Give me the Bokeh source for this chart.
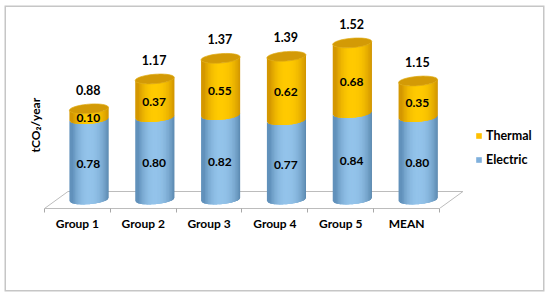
import math
from bokeh.embed import file_html
from bokeh.resources import INLINE
from bokeh.plotting import figure
from bokeh.models import (ColumnDataSource, FixedTicker, Legend, LegendItem, Range1d, Title)
from bokeh.core.properties import value

groups = ["Group 1", "Group 2", "Group 3", "Group 4", "Group 5", "MEAN"]
electric = [0.78, 0.80, 0.82, 0.77, 0.84, 0.80]
thermal = [0.10, 0.37, 0.55, 0.62, 0.68, 0.35]
totals = [0.88, 1.17, 1.37, 1.39, 1.52, 1.15]
series_names = ["Thermal", "Electric"]

FONT = "Lato"
CELL = 65.83
UNIT = 103.0
W, H = 537, 283
LEFT, BOTTOM = 38, 82
fw = W - LEFT
fh = H - BOTTOM
ymin = -9.0 / UNIT

p = figure(width=W, height=H, output_backend="svg", toolbar_location=None,
           x_range=Range1d(-0.5, -0.5 + fw / CELL),
           y_range=Range1d(ymin, ymin + fh / UNIT),
           min_border_left=LEFT, min_border_right=0, min_border_top=0,
           min_border_bottom=BOTTOM, outline_line_color=None,
           background_fill_color="white", border_fill_color="white")
p.styles = {"position": "absolute", "left": "6px", "top": "7px", "box-shadow": "0 0 0 1.5px #c6c6c6"}
p.grid.visible = False
p.yaxis.visible = False

ax = p.xaxis[0]
ax.ticker = FixedTicker(ticks=list(range(len(groups))),
                        minor_ticks=[i - 0.5 for i in range(len(groups) + 1)])
ax.major_label_overrides = {i: g for i, g in enumerate(groups)}
ax.bounds = (-0.5, len(groups) - 0.5)
ax.major_tick_line_color = None
ax.minor_tick_line_color = "#a8a8a8"
ax.minor_tick_out = 4
ax.minor_tick_in = 0
ax.axis_line_color = "#bcbcbc"
ax.major_label_text_font = FONT
ax.major_label_text_font_style = "bold"
ax.major_label_text_font_size = "12px"
ax.major_label_text_color = "#000000"
ax.major_label_standoff = 1

# floor of the 3D box
dx = 23.5 / CELL
dy = 17.0 / UNIT
floor_x = [-0.5, -0.5 + dx, len(groups) - 0.5 + dx, len(groups) - 0.5]
floor_y = [ymin, ymin + dy, ymin + dy, ymin]
p.line(floor_x, floor_y, line_color="#bcbcbc", line_width=1)

# cylinders
BAR_SHIFT = 11.5 / CELL
A = 19.5 / CELL
B = 4.7 / UNIT
TILT = 1.5 / UNIT
N = 26


def mix(c1, c2, t):
    return "#%02x%02x%02x" % tuple(round(a + (b - a) * t) for a, b in zip(c1, c2))


BLUE_MID, BLUE_EDGE_L, BLUE_EDGE_R = (0x93, 0xc3, 0xea), (0x5c, 0x8c, 0xb6), (0x4c, 0x79, 0xa0)
ORNG_MID, ORNG_EDGE_L, ORNG_EDGE_R = (0xff, 0xca, 0x00), (0xd0, 0x92, 0x00), (0xc4, 0x86, 0x00)


def shade(t, mid, left, right):
    c = -0.1
    if t < c:
        return mix(mid, left, min(1, ((c - t) / (1 + c)) ** 2.2))
    return mix(mid, right, min(1, ((t - c) / (1 - c)) ** 2.2))


def lower(t):
    return -B * math.sqrt(max(0.0, 1 - t * t)) + TILT * t


xs, ys, cols = [], [], []
for i, (e, th) in enumerate(zip(electric, thermal)):
    cx = i + BAR_SHIFT
    for v0, v1, mid, l, r in ((0, e, BLUE_MID, BLUE_EDGE_L, BLUE_EDGE_R),
                              (e, e + th, ORNG_MID, ORNG_EDGE_L, ORNG_EDGE_R)):
        for k in range(N - 1, -1, -1):
            t0 = -1 + 2 * k / N
            t1 = -1 + 2 * (k + 1) / N
            t2 = min(1.0, t1 + 0.12)
            xs.append([cx + A * t0, cx + A * t1, cx + A * t2, cx + A * t2, cx + A * t1, cx + A * t0])
            ys.append([v0 + lower(t0), v0 + lower(t1), v0 + lower(t2),
                       v1 + lower(t2), v1 + lower(t1), v1 + lower(t0)])
            cols.append(shade((t0 + t1) / 2, mid, l, r))
p.patches(xs="xs", ys="ys", fill_color="cols", line_color=None,
          source=ColumnDataSource(dict(xs=xs, ys=ys, cols=cols)))

# top caps
tx, ty = [], []
for i, total in enumerate(totals):
    cx = i + BAR_SHIFT
    top = electric[i] + thermal[i]
    ts = [2 * math.pi * k / 48 for k in range(48)]
    tx.append([cx + A * math.cos(a) for a in ts])
    ty.append([top + B * math.sin(a) + TILT * math.cos(a) for a in ts])
p.patches(xs=tx, ys=ty, fill_color="#d39a06", line_color="#e0aa10", line_width=0.7)

# labels
centers = [i + BAR_SHIFT - 0.01 for i in range(len(groups))]
common = dict(text_font=value(FONT), text_font_style="bold", text_color="#000000",
              text_align="center", text_baseline="middle")
p.text(x=centers, y=totals, text=["%.2f" % v for v in totals],
       text_font_size="12.5px", y_offset=-19, **common)
p.text(x=centers, y=[e / 2 for e in electric], text=["%.2f" % v for v in electric],
       text_font_size="12px", y_offset=5, **common)
p.text(x=centers, y=[e + t / 2 for e, t in zip(electric, thermal)], text=["%.2f" % v for v in thermal],
       text_font_size="12px", y_offset=4, **common)

p.add_layout(Title(text="tCO\u2082/year", align="left", offset=56, standoff=3,
                   text_font=FONT, text_font_style="bold", text_font_size="12px",
                   text_color="#000000"), "left")

# legend
nan = float("nan")
r_th = p.quad(left=[nan], right=[nan], bottom=[nan], top=[nan], fill_color="#ffc000", line_color=None)
r_el = p.quad(left=[nan], right=[nan], bottom=[nan], top=[nan], fill_color="#7fb0dc", line_color=None)
leg = Legend(items=[LegendItem(label=series_names[0], renderers=[r_th]),
                    LegendItem(label=series_names[1], renderers=[r_el])],
             location=(431, 41), orientation="vertical", border_line_color=None,
             background_fill_alpha=0, glyph_width=7, glyph_height=7, label_standoff=4,
             label_text_font=FONT, label_text_font_style="bold", label_text_font_size="12.5px",
             label_text_color="#000000", label_height=14, spacing=9, padding=0, margin=0)
p.add_layout(leg, "center")

open("out.html", "w").write(file_html(p, INLINE))
